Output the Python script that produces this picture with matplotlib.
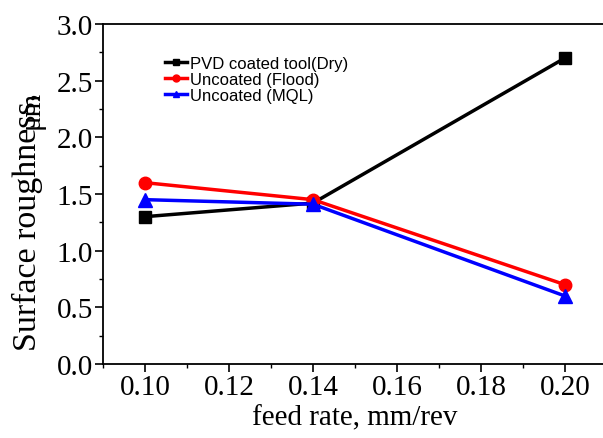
import matplotlib.pyplot as plt
from matplotlib.ticker import MultipleLocator

feed = [0.10, 0.14, 0.20]
pvd_dry = [1.30, 1.42, 2.70]
flood = [1.60, 1.45, 0.70]
mql = [1.45, 1.41, 0.60]

W, H = 603, 439
fig = plt.figure(figsize=(W / 100, H / 100), dpi=100)
ax = fig.add_axes([103 / W, (H - 365) / H, (607 - 103) / W, 340 / H])

ax.plot(feed, pvd_dry, color="black", lw=2.5, marker="s", ms=8, label="PVD coated tool(Dry)")
ax.plot(feed, flood, color="red", lw=2.5, marker="o", ms=9, label="Uncoated (Flood)")
ax.plot(feed, mql, color="blue", lw=2.5, marker="^", ms=10, label="Uncoated (MQL)")

ax.set_xlim(0.09, 0.21)
ax.set_ylim(0, 3.0)
ax.xaxis.set_minor_locator(MultipleLocator(0.01))
ax.yaxis.set_minor_locator(MultipleLocator(0.25))
ax.set_xticks([0.10, 0.12, 0.14, 0.16, 0.18, 0.20])
ax.set_xticklabels(["0.10", "0.12", "0.14", "0.16", "0.18", "0.20"])
ax.set_yticks([0.0, 0.5, 1.0, 1.5, 2.0, 2.5, 3.0])
ax.set_yticklabels(["0.0", "0.5", "1.0", "1.5", "2.0", "2.5", "3.0"])

for lab in ax.get_xticklabels() + ax.get_yticklabels():
    lab.set_fontfamily("Liberation Serif")
    lab.set_fontsize(21)
ax.tick_params(which="major", direction="out", length=6, width=1.2, pad=1)
ax.tick_params(which="minor", direction="out", length=3, width=1.0)
for s in ax.spines.values():
    s.set_linewidth(1.3)

ax.set_xlabel("feed rate, mm/rev", fontfamily="Liberation Serif", fontsize=21, labelpad=3)
fig.text(27 / W, 1 - 222 / H, "Surface roughness,", rotation=90, ha="center", va="center",
         fontfamily="Liberation Serif", fontsize=24.5)
fig.text(32 / W, 1 - 110 / H, "\u03bcm", rotation=90, ha="center", va="center",
         fontfamily="Liberation Serif", fontsize=21)

leg = ax.legend(loc="upper left", bbox_to_anchor=(0.11, 0.925), frameon=False,
                prop={"family": "Liberation Sans", "size": 12}, handlelength=1.3,
                handletextpad=0.2, labelspacing=0.05, borderaxespad=0)
for h in leg.legend_handles:
    h.set_markersize(5)
    h.set_linewidth(2.5)

fig.savefig("out.png", dpi=100)
